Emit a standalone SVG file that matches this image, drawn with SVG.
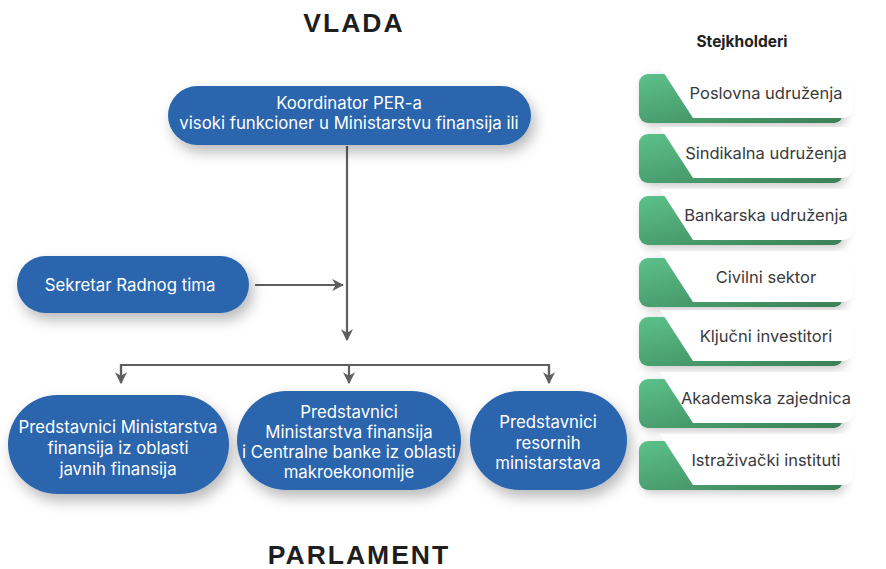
<svg xmlns="http://www.w3.org/2000/svg" width="886" height="569" viewBox="0 0 886 569">
<defs>
<style>
.title{font-family:"Liberation Sans",Arial,sans-serif;font-weight:bold;font-size:26.5px;letter-spacing:2px;fill:#1e1e1e;text-anchor:middle}
.blue{fill:#2965ae}
.bt{font-family:Inter,Roboto,"Liberation Sans",sans-serif;font-size:16.8px;fill:#ffffff;text-anchor:middle}
.st{font-family:Inter,Roboto,"Liberation Sans",sans-serif;font-size:16.5px;fill:#3a3a3a;text-anchor:middle}
.conn{stroke:#5f5f5f;stroke-width:2.2;fill:none}
.green{fill:url(#gg)}
.white{fill:#ffffff}
</style>
<linearGradient id="gg" x1="0" y1="0" x2="1" y2="1">
<stop offset="0" stop-color="#5cc18a"/>
<stop offset="1" stop-color="#3b7f56"/>
</linearGradient>
<filter id="sh" x="-20%" y="-30%" width="150%" height="170%">
<feDropShadow dx="4" dy="7" stdDeviation="7" flood-color="#000" flood-opacity="0.28"/>
</filter>
<filter id="sh2" x="-20%" y="-30%" width="150%" height="170%">
<feDropShadow dx="3" dy="3" stdDeviation="5" flood-color="#000" flood-opacity="0.22"/>
</filter>
<marker id="ah" viewBox="0 0 10 10" refX="9" refY="5" markerWidth="5.5" markerHeight="5.5" orient="auto" markerUnits="strokeWidth">
<path d="M0,0 L10,5 L0,10 L3,5 z" fill="#5f5f5f"/>
</marker>
</defs>
<rect width="886" height="569" fill="#ffffff"/>
<text class="title" x="354" y="32">VLADA</text>
<text class="title" x="359" y="564">PARLAMENT</text>
<text x="742" y="47" font-family="Inter,Roboto,'Liberation Sans',sans-serif" font-weight="bold" font-size="15.5" fill="#222" text-anchor="middle">Stejkholderi</text>

<g id="connectors">
<line class="conn" x1="347" y1="146" x2="347" y2="340" marker-end="url(#ah)"/>
<line class="conn" x1="255" y1="285" x2="343" y2="285" marker-end="url(#ah)"/>
<polyline class="conn" points="121,383 121,365 549,365 549,383"/>
<line class="conn" x1="121" y1="365" x2="121" y2="383" marker-end="url(#ah)"/>
<line class="conn" x1="349" y1="365" x2="349" y2="383" marker-end="url(#ah)"/>
<line class="conn" x1="549" y1="365" x2="549" y2="383" marker-end="url(#ah)"/>
</g>

<g id="koordinator">
<rect class="blue" x="168" y="86" width="363" height="59" rx="29.5" filter="url(#sh)"/>
<text class="bt" x="349" y="109">Koordinator PER-a</text>
<text class="bt" x="349" y="129">visoki funkcioner u Ministarstvu finansija ili</text>
</g>
<g id="sekretar">
<rect class="blue" x="17" y="256" width="232" height="57" rx="28.5" filter="url(#sh)"/>
<text class="bt" x="130" y="291" font-size="17.8">Sekretar Radnog tima</text>
</g>
<g id="pred1">
<rect class="blue" x="8" y="395" width="221" height="99" rx="49.5" filter="url(#sh)"/>
<text class="bt" x="118" y="433">Predstavnici Ministarstva</text>
<text class="bt" x="118" y="454">finansija iz oblasti</text>
<text class="bt" x="118" y="475">javnih finansija</text>
</g>
<g id="pred2">
<rect class="blue" x="237" y="391" width="224" height="99" rx="49.5" filter="url(#sh)"/>
<text class="bt" x="349" y="418">Predstavnici</text>
<text class="bt" x="349" y="438">Ministarstva finansija</text>
<text class="bt" x="349" y="458">i Centralne banke iz oblasti</text>
<text class="bt" x="349" y="478">makroekonomije</text>
</g>
<g id="pred3">
<rect class="blue" x="470" y="391" width="157" height="99" rx="49.5" filter="url(#sh)"/>
<text class="bt" x="548" y="428">Predstavnici</text>
<text class="bt" x="548" y="449">resornih</text>
<text class="bt" x="548" y="469">ministarstava</text>
</g>

<g id="s1" transform="translate(0,0)">
<rect class="green" x="639" y="74" width="204" height="49" rx="9" filter="url(#sh2)"/>
<path class="white" d="M660,67 H843 A10,10 0 0 1 853,77 V108 A10,10 0 0 1 843,118 H693 Z"/>
<text class="st" x="766" y="99">Poslovna udruženja</text>
</g>
<g id="s2" transform="translate(0,60)">
<rect class="green" x="639" y="74" width="204" height="49" rx="9" filter="url(#sh2)"/>
<path class="white" d="M660,67 H843 A10,10 0 0 1 853,77 V108 A10,10 0 0 1 843,118 H693 Z"/>
<text class="st" x="766" y="99">Sindikalna udruženja</text>
</g>
<g id="s3" transform="translate(0,122)">
<rect class="green" x="639" y="74" width="204" height="49" rx="9" filter="url(#sh2)"/>
<path class="white" d="M660,67 H843 A10,10 0 0 1 853,77 V108 A10,10 0 0 1 843,118 H693 Z"/>
<text class="st" x="766" y="99">Bankarska udruženja</text>
</g>
<g id="s4" transform="translate(0,184)">
<rect class="green" x="639" y="74" width="204" height="49" rx="9" filter="url(#sh2)"/>
<path class="white" d="M660,67 H843 A10,10 0 0 1 853,77 V108 A10,10 0 0 1 843,118 H693 Z"/>
<text class="st" x="766" y="99">Civilni sektor</text>
</g>
<g id="s5" transform="translate(0,243)">
<rect class="green" x="639" y="74" width="204" height="49" rx="9" filter="url(#sh2)"/>
<path class="white" d="M660,67 H843 A10,10 0 0 1 853,77 V108 A10,10 0 0 1 843,118 H693 Z"/>
<text class="st" x="766" y="99">Ključni investitori</text>
</g>
<g id="s6" transform="translate(0,305)">
<rect class="green" x="639" y="74" width="204" height="49" rx="9" filter="url(#sh2)"/>
<path class="white" d="M660,67 H843 A10,10 0 0 1 853,77 V108 A10,10 0 0 1 843,118 H693 Z"/>
<text class="st" x="766" y="99">Akademska zajednica</text>
</g>
<g id="s7" transform="translate(0,367)">
<rect class="green" x="639" y="74" width="204" height="49" rx="9" filter="url(#sh2)"/>
<path class="white" d="M660,67 H843 A10,10 0 0 1 853,77 V108 A10,10 0 0 1 843,118 H693 Z"/>
<text class="st" x="766" y="99">Istraživački instituti</text>
</g>
</svg>
